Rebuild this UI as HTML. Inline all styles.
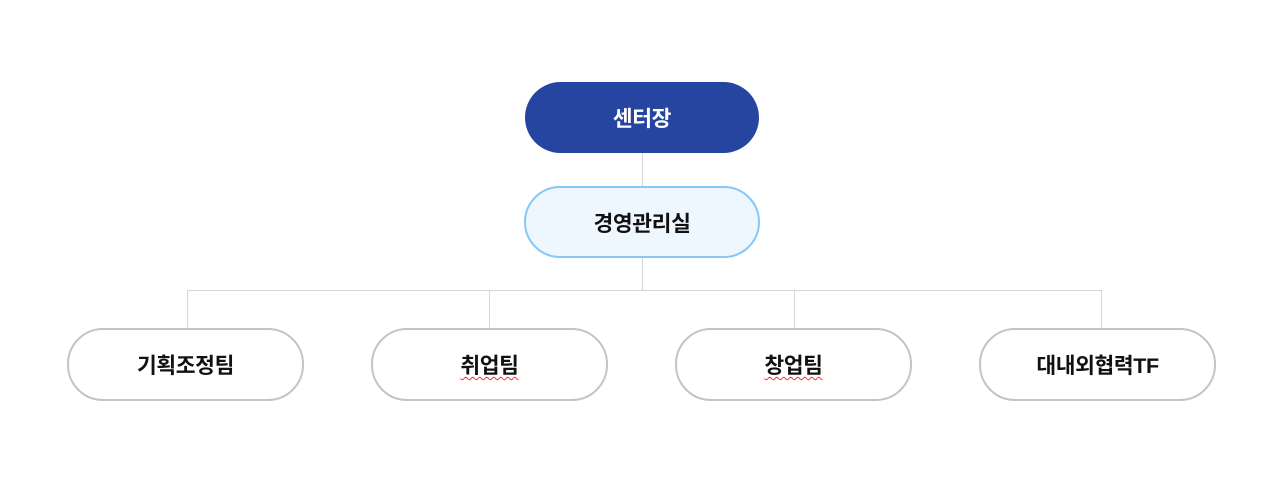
<!DOCTYPE html>
<html><head><meta charset="utf-8"><style>
body{margin:0;width:1286px;height:481px;background:#fff;position:relative;overflow:hidden;font-family:"Liberation Sans","Noto Sans CJK KR",sans-serif}
.b{position:absolute;box-sizing:border-box;border-radius:36px;display:flex;align-items:center;justify-content:center;font-size:21.5px;font-weight:bold;color:#111;letter-spacing:-0.4px}
.l{position:absolute;background:#d6d6d6}
.w{text-decoration:underline wavy #e33;text-decoration-thickness:1px;text-underline-offset:3px}
</style></head><body>
<div class="l" style="left:642px;top:153px;width:1px;height:33px"></div>
<div class="l" style="left:642px;top:258px;width:1px;height:32px"></div>
<div class="l" style="left:187px;top:290px;width:915px;height:1px"></div>
<div class="l" style="left:187px;top:290px;width:1px;height:38px"></div>
<div class="l" style="left:489px;top:290px;width:1px;height:38px"></div>
<div class="l" style="left:794px;top:290px;width:1px;height:38px"></div>
<div class="l" style="left:1101px;top:290px;width:1px;height:38px"></div>
<div class="b" style="left:525px;top:82px;width:234px;height:71px;background:#2645a1;color:#fff">센터장</div>
<div class="b" style="left:524px;top:186px;width:236px;height:72px;background:#eef6fe;border:2px solid #86c8f7">경영관리실</div>
<div class="b" style="left:67px;top:328px;width:237px;height:73px;border:2px solid #c4c4c4">기획조정팀</div>
<div class="b" style="left:371px;top:328px;width:237px;height:73px;border:2px solid #c4c4c4"><span class="w">취업팀</span></div>
<div class="b" style="left:675px;top:328px;width:237px;height:73px;border:2px solid #c4c4c4"><span class="w">창업팀</span></div>
<div class="b" style="left:979px;top:328px;width:237px;height:73px;border:2px solid #c4c4c4">대내외협력TF</div>
</body></html>
